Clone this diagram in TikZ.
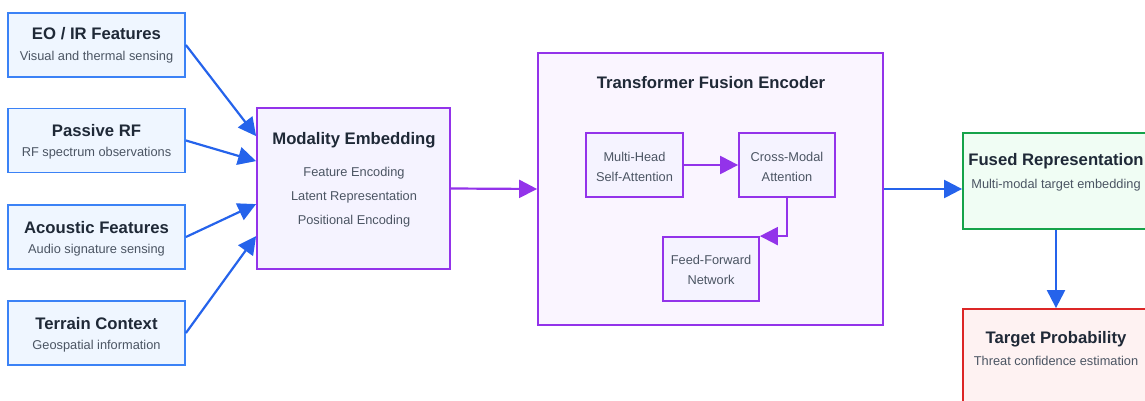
\documentclass[tikz,border=0pt]{standalone}
\usepackage{fontspec}
\setmainfont{Liberation Sans}
\usetikzlibrary{arrows.meta}
\definecolor{ink}{HTML}{1F2937}
\definecolor{muted}{HTML}{4B5563}
\definecolor{blueline}{HTML}{3B82F6}
\definecolor{bluearr}{HTML}{2563EB}
\definecolor{bluefill}{HTML}{EFF6FF}
\definecolor{purpline}{HTML}{9333EA}
\definecolor{purpfill}{HTML}{F5F3FF}
\definecolor{purpbg}{HTML}{FAF5FF}
\definecolor{greenline}{HTML}{16A34A}
\definecolor{greenfill}{HTML}{F0FDF4}
\definecolor{redline}{HTML}{DC2626}
\definecolor{redfill}{HTML}{FEF2F2}
\begin{document}
\begin{tikzpicture}[x=1pt,y=-1pt,
  box/.style={draw, line width=1.8pt, inner sep=0pt},
  inbox/.style={box, draw=blueline, fill=bluefill, minimum width=177pt, minimum height=64pt},
  purbox/.style={box, draw=purpline, fill=purpfill},
  title/.style={font=\bfseries\fontsize{16.7}{20}\selectfont, text=ink, anchor=base, inner sep=0pt},
  sub/.style={font=\fontsize{12.8}{15}\selectfont, text=muted, anchor=base, inner sep=0pt},
  tip/.style={-{Triangle[length=18pt,width=18pt]}},
  barrow/.style={draw=bluearr, line width=2.2pt, tip},
  parrow/.style={draw=purpline, line width=2.2pt, tip}
]
\useasboundingbox (0,0) rectangle (1145,401);

% input modalities
\node[inbox] (eo) at (96.5,45) {};
\node[title] (eoT) at (96.5,40) {EO / IR Features};
\node[sub] (eoS) at (96.5,61) {Visual and thermal sensing};

\node[inbox] (rf) at (96.5,140.5) {};
\node[title] (rfT) at (96.5,136.5) {Passive RF};
\node[sub] (rfS) at (96.5,157) {RF spectrum observations};

\node[inbox] (ac) at (96.5,237) {};
\node[title] (acT) at (96.5,233) {Acoustic Features};
\node[sub] (acS) at (96.5,253) {Audio signature sensing};

\node[inbox] (tc) at (96.5,333) {};
\node[title] (tcT) at (96.5,329) {Terrain Context};
\node[sub] (tcS) at (96.5,349.5) {Geospatial information};

% modality embedding
\node[purbox, minimum width=193pt, minimum height=161pt] (me) at (353.5,188.5) {};
\node[title] (meT) at (354,144.5) {Modality Embedding};
\node[sub] (me1) at (354,176) {Feature Encoding};
\node[sub] (me2) at (354,200) {Latent Representation};
\node[sub] (me3) at (354,224) {Positional Encoding};

% transformer fusion encoder
\node[box, draw=purpline, fill=purpbg, minimum width=345pt, minimum height=272pt] (tf) at (710.5,189) {};
\node[title] (tfT) at (711,89) {Transformer Fusion Encoder};

\node[purbox, minimum width=97pt, minimum height=64pt] (mhsa) at (634.5,165) {};
\node[sub] (mh1) at (634.5,161) {Multi-Head};
\node[sub] (mh2) at (634.5,181) {Self-Attention};

\node[purbox, minimum width=96pt, minimum height=64pt] (cma) at (787,165) {};
\node[sub] (cm1) at (787,161) {Cross-Modal};
\node[sub] (cm2) at (787,181) {Attention};

\node[purbox, minimum width=96pt, minimum height=64pt] (ffn) at (711,269) {};
\node[sub] (ff1) at (711,264) {Feed-Forward};
\node[sub] (ff2) at (711,284) {Network};

% outputs
\node[box, draw=greenline, fill=greenfill, minimum width=186pt, minimum height=96pt] (fused) at (1056,181) {};
\node[title] (fuT) at (1056,165) {Fused Representation};
\node[sub] (fuS) at (1056,188.5) {Multi-modal target embedding};

\node[box, draw=redline, fill=redfill, minimum width=186pt, minimum height=96pt] (target) at (1056,357) {};
\node[title] (taT) at (1056,343) {Target Probability};
\node[sub] (taS) at (1056,365.5) {Threat confidence estimation};

% connectors
\draw[barrow] (eo.east) -- ([yshift=-29pt]me.north west);
\draw[barrow] (rf.east) -- ([yshift=-54pt]me.north west);
\draw[barrow] (ac.east) -- ([yshift=-97pt]me.north west);
\draw[barrow] (tc.east) -- ([yshift=-129pt]me.north west);
\draw[parrow] (me.east) -- (tf.west);
\draw[parrow] (mhsa.east) -- (cma.west);
\draw[parrow] (cma.south) |- (ffn.north east);
\draw[barrow] (tf.east) -- (tf.east -| fused.west);
\draw[barrow] (fused.south) -- (target.north);
\end{tikzpicture}
\end{document}
